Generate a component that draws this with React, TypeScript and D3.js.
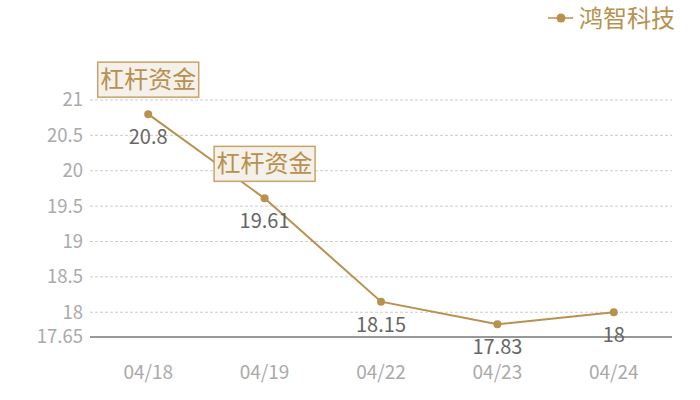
import * as d3 from 'd3'

const categories = ['04/18', '04/19', '04/22', '04/23', '04/24']
const values = [20.8, 19.61, 18.15, 17.83, 18]
const yTicks = [17.65, 18, 18.5, 19, 19.5, 20, 20.5, 21]
const gridTicks = [18, 18.5, 19, 19.5, 20, 20.5, 21]
const annotations = [
  { index: 0, text: '杠杆资金' },
  { index: 1, text: '杠杆资金' }
]
const seriesName = '鸿智科技'

const W = 700
const H = 400
const margin = { top: 100, right: 28, bottom: 63, left: 90 }
const GOLD = '#b8914f'
const FONT = '"Noto Sans CJK SC", "Noto Sans", sans-serif'

export default function App() {
  const x = d3.scaleBand<string>()
    .domain(categories)
    .range([margin.left, W - margin.right])

  const y = d3.scaleLinear()
    .domain([17.65, 21])
    .range([H - margin.bottom, margin.top])

  const cx = (c: string) => (x(c) ?? 0) + x.bandwidth() / 2

  const line = d3.line<number>()
    .x((_, i) => cx(categories[i]))
    .y(d => y(d))

  return (
    <svg
      width={W}
      height={H}
      style={{ position: 'absolute', left: 0, top: 0, fontFamily: FONT }}
    >
      {/* grid lines */}
      {gridTicks.map(t => (
        <line
          key={t}
          x1={margin.left}
          x2={W - margin.right}
          y1={y(t)}
          y2={y(t)}
          stroke="#cccccc"
          strokeWidth={1}
          strokeDasharray="3,2"
        />
      ))}

      {/* x axis baseline */}
      <line
        x1={margin.left}
        x2={W - margin.right}
        y1={y(17.65)}
        y2={y(17.65)}
        stroke="#333"
        strokeWidth={1}
      />

      {/* y tick labels */}
      {yTicks.map(t => (
        <text
          key={t}
          x={83}
          y={y(t)}
          dy="0.35em"
          textAnchor="end"
          fontSize={18.5}
          fill="#aaaaaa"
        >
          {t}
        </text>
      ))}

      {/* x tick labels */}
      {categories.map(c => (
        <text
          key={c}
          x={cx(c)}
          y={379}
          textAnchor="middle"
          fontSize={19}
          fill="#aaaaaa"
        >
          {c}
        </text>
      ))}

      {/* series line */}
      <path d={line(values) ?? ''} fill="none" stroke={GOLD} strokeWidth={2} />

      {values.map((v, i) => (
        <circle key={i} cx={cx(categories[i])} cy={y(v)} r={4} fill={GOLD} />
      ))}

      {/* data labels */}
      {values.map((v, i) => (
        <text
          key={i}
          x={cx(categories[i])}
          y={y(v) + 30}
          textAnchor="middle"
          fontSize={20}
          fill="#666666"
        >
          {v}
        </text>
      ))}

      {/* annotation boxes */}
      {annotations.map((a, k) => {
        const px = cx(categories[a.index])
        const py = y(values[a.index])
        const bw = 101
        const bh = 35
        const bx = px - bw / 2
        const by = py - 17 - bh
        return (
          <g key={k}>
            <rect
              x={bx}
              y={by}
              width={bw}
              height={bh}
              fill="#f4f0ea"
              stroke="#c8a468"
              strokeWidth={1.5}
            />
            <text
              x={px}
              y={by + bh / 2}
              dy="0.36em"
              textAnchor="middle"
              fontSize={24}
              fill={GOLD}
            >
              {a.text}
            </text>
          </g>
        )
      })}

      {/* legend */}
      <g>
        <line x1={548} x2={573} y1={18} y2={18} stroke={GOLD} strokeWidth={1.5} />
        <circle cx={561} cy={18} r={4.5} fill={GOLD} />
        <text x={579} y={18} dy="0.36em" fontSize={24} fill={GOLD}>
          {seriesName}
        </text>
      </g>
    </svg>
  )
}
